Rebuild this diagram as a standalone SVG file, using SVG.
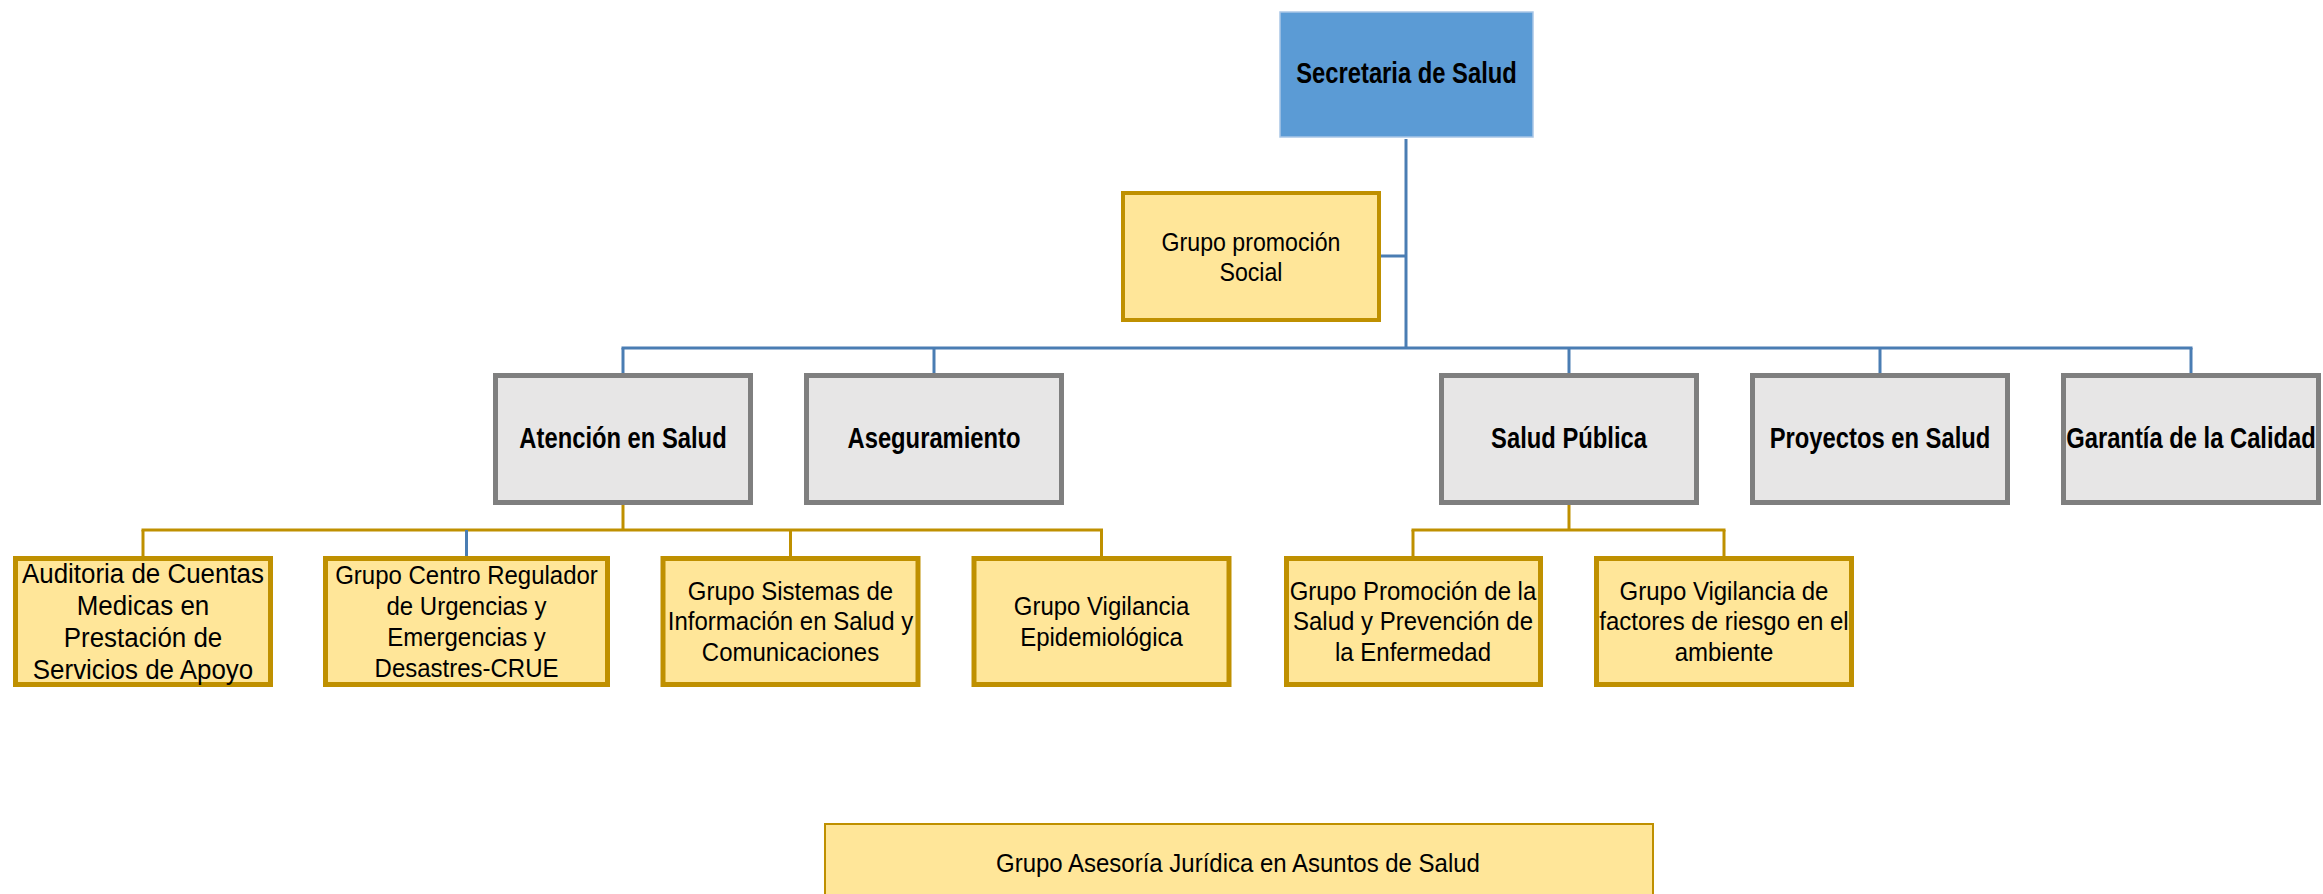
<svg xmlns="http://www.w3.org/2000/svg" width="2323" height="894" viewBox="0 0 2323 894">
<style>
.bg{fill:#ffffff}
.top{fill:#5b9bd5;stroke:#a9c6e6;stroke-width:1.5}
.dept{fill:#e7e6e6;stroke:#7f7f7f;stroke-width:5}
.grp{fill:#ffe699;stroke:#bf9000;stroke-width:5}
.grp2{fill:#ffe699;stroke:#bf9000;stroke-width:4}
.thin{fill:#ffe699;stroke:#bf9000;stroke-width:2}
.b{font-family:"Liberation Sans",Arial,sans-serif;font-weight:bold;font-size:29px;fill:#000;text-anchor:middle}
.r{font-family:"Liberation Sans",Arial,sans-serif;font-size:26px;fill:#000;text-anchor:middle}
.r2{font-family:"Liberation Sans",Arial,sans-serif;font-size:27px;fill:#000;text-anchor:middle}
.cb{fill:none;stroke:#4a7db3;stroke-width:3}
.cg{fill:none;stroke:#bf9000;stroke-width:3}
</style>
<rect class="bg" x="0" y="0" width="2323" height="894"/>
<g id="connectors">
  <line class="cb" x1="1406" y1="139" x2="1406" y2="348"/>
  <line class="cb" x1="1381" y1="256" x2="1406" y2="256"/>
  <line class="cb" x1="621.5" y1="348" x2="2192.5" y2="348"/>
  <line class="cb" x1="623" y1="348" x2="623" y2="373"/>
  <line class="cb" x1="934" y1="348" x2="934" y2="373"/>
  <line class="cb" x1="1569" y1="348" x2="1569" y2="373"/>
  <line class="cb" x1="1880" y1="348" x2="1880" y2="373"/>
  <line class="cb" x1="2191" y1="348" x2="2191" y2="373"/>
  <line class="cg" x1="623" y1="505" x2="623" y2="530"/>
  <line class="cg" x1="141.5" y1="530" x2="1103" y2="530"/>
  <line class="cg" x1="143" y1="530" x2="143" y2="556"/>
  <line class="cb" x1="466.5" y1="530" x2="466.5" y2="556"/>
  <line class="cg" x1="790.5" y1="530" x2="790.5" y2="556"/>
  <line class="cg" x1="1101.5" y1="530" x2="1101.5" y2="556"/>
  <line class="cg" x1="1569" y1="505" x2="1569" y2="530"/>
  <line class="cg" x1="1411.5" y1="530" x2="1725.5" y2="530"/>
  <line class="cg" x1="1413" y1="530" x2="1413" y2="556"/>
  <line class="cg" x1="1724" y1="530" x2="1724" y2="556"/>
</g>
<g id="n-secretaria">
  <rect class="top" x="1280" y="12" width="253" height="125"/>
  <text class="b" transform="translate(1406.5,83) scale(0.82,1)">Secretaria de Salud</text>
</g>
<g id="n-promocion-social">
  <rect class="grp2" x="1123" y="193" width="256" height="127"/>
  <text class="r" transform="translate(1251,250.5) scale(0.89,1)"><tspan x="0">Grupo promoción</tspan><tspan x="0" dy="31">Social</tspan></text>
</g>
<g id="n-atencion">
  <rect class="dept" x="495.5" y="375.5" width="255" height="127"/>
  <text class="b" transform="translate(623,448) scale(0.82,1)">Atención en Salud</text>
</g>
<g id="n-aseguramiento">
  <rect class="dept" x="806.5" y="375.5" width="255" height="127"/>
  <text class="b" transform="translate(934,448) scale(0.82,1)">Aseguramiento</text>
</g>
<g id="n-salud-publica">
  <rect class="dept" x="1441.5" y="375.5" width="255" height="127"/>
  <text class="b" transform="translate(1569,448) scale(0.82,1)">Salud Pública</text>
</g>
<g id="n-proyectos">
  <rect class="dept" x="1752.5" y="375.5" width="255" height="127"/>
  <text class="b" transform="translate(1880,448) scale(0.82,1)">Proyectos en Salud</text>
</g>
<g id="n-garantia">
  <rect class="dept" x="2063.5" y="375.5" width="255" height="127"/>
  <text class="b" transform="translate(2191,448) scale(0.82,1)">Garantía de la Calidad</text>
</g>
<g id="n-auditoria">
  <rect class="grp" x="15.5" y="558.5" width="255" height="126"/>
  <text class="r2" transform="translate(143,583) scale(0.96,1)"><tspan x="0">Auditoria de Cuentas</tspan><tspan x="0" dy="32">Medicas en</tspan><tspan x="0" dy="32">Prestación de</tspan><tspan x="0" dy="32">Servicios de Apoyo</tspan></text>
</g>
<g id="n-crue">
  <rect class="grp" x="325.5" y="558.5" width="282" height="126"/>
  <text class="r" transform="translate(466.5,584) scale(0.923,1)"><tspan x="0">Grupo Centro Regulador</tspan><tspan x="0" dy="31">de Urgencias y</tspan><tspan x="0" dy="31">Emergencias y</tspan><tspan x="0" dy="31">Desastres-CRUE</tspan></text>
</g>
<g id="n-sistemas">
  <rect class="grp" x="663" y="558.5" width="255" height="126"/>
  <text class="r" transform="translate(790.5,599.5) scale(0.923,1)"><tspan x="0">Grupo Sistemas de</tspan><tspan x="0" dy="31">Información en Salud y</tspan><tspan x="0" dy="31">Comunicaciones</tspan></text>
</g>
<g id="n-vigilancia-epi">
  <rect class="grp" x="974" y="558.5" width="255" height="126"/>
  <text class="r" transform="translate(1101.5,615) scale(0.923,1)"><tspan x="0">Grupo Vigilancia</tspan><tspan x="0" dy="31">Epidemiológica</tspan></text>
</g>
<g id="n-promocion-salud">
  <rect class="grp" x="1286.5" y="558.5" width="254" height="126"/>
  <text class="r" transform="translate(1413,599.5) scale(0.923,1)"><tspan x="0">Grupo Promoción de la</tspan><tspan x="0" dy="31">Salud y Prevención de</tspan><tspan x="0" dy="31">la Enfermedad</tspan></text>
</g>
<g id="n-vigilancia-factores">
  <rect class="grp" x="1596.5" y="558.5" width="255" height="126"/>
  <text class="r" transform="translate(1724,599.5) scale(0.923,1)"><tspan x="0">Grupo Vigilancia de</tspan><tspan x="0" dy="31">factores de riesgo en el</tspan><tspan x="0" dy="31">ambiente</tspan></text>
</g>
<g id="n-asesoria">
  <rect class="thin" x="825" y="824" width="828" height="84"/>
  <text class="r" transform="translate(1238,872) scale(0.923,1)">Grupo Asesoría Jurídica en Asuntos de Salud</text>
</g>
</svg>
